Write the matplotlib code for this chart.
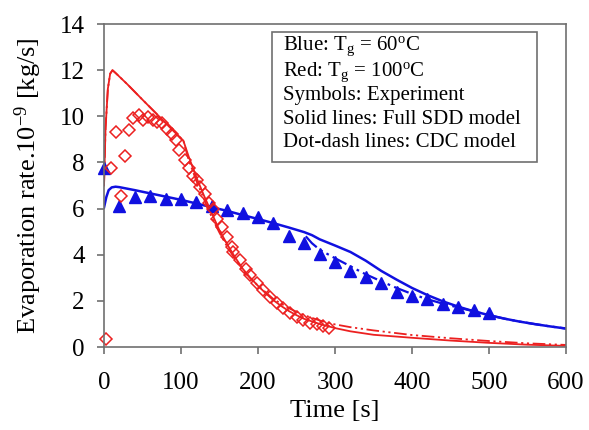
import matplotlib.pyplot as plt
from matplotlib.patches import Rectangle

plt.rcParams['font.family'] = ['Liberation Serif', 'DejaVu Serif']
plt.rcParams['mathtext.fontset'] = 'custom'
plt.rcParams['mathtext.rm'] = 'Liberation Serif'
plt.rcParams['mathtext.it'] = 'Liberation Serif:italic'

# Blue, Tg = 60 C
blue_exp_t = [0, 20, 40, 60, 80, 100, 120, 140, 160, 180, 200, 220, 240, 260,
              280, 300, 320, 340, 360, 380, 400, 420, 440, 460, 480, 500]
blue_exp_y = [7.75, 6.1, 6.52, 6.55, 6.42, 6.42, 6.27, 6.1, 5.95, 5.8, 5.63, 5.37, 4.82, 4.49,
              4.03, 3.67, 3.31, 3.02, 2.76, 2.4, 2.21, 2.1, 1.86, 1.72, 1.6, 1.48]

blue_sdd_t = [0, 3, 6, 10, 15, 20, 40, 60, 80, 100, 120, 140, 160, 180, 200, 220, 240, 260,
              270, 280, 300, 320, 340, 360, 380, 400, 420, 440, 460, 480, 500, 520, 540,
              560, 580, 600]
blue_sdd_y = [6.05, 6.5, 6.8, 6.92, 6.95, 6.93, 6.8, 6.66, 6.52, 6.38, 6.22, 6.06, 5.9, 5.72,
              5.55, 5.37, 5.18, 4.98, 4.85, 4.67, 4.4, 4.12, 3.74, 3.3, 2.92, 2.56, 2.25, 1.98,
              1.75, 1.55, 1.38, 1.23, 1.1, 0.99, 0.89, 0.8]

blue_cdc_t = [262, 270, 280, 300, 320, 340, 360, 380, 400, 420, 440, 460, 480, 500, 520, 540,
              560, 580, 600]
blue_cdc_y = [4.8, 4.5, 4.22, 3.85, 3.5, 3.15, 2.85, 2.56, 2.3, 2.07, 1.88, 1.71, 1.55, 1.38,
              1.23, 1.1, 0.99, 0.89, 0.8]

# Red, Tg = 100 C
red_exp_t = [2, 9, 16, 22, 27, 33, 38, 45, 51, 57, 63, 69, 75, 82, 88, 94, 98, 105, 110, 116,
             121, 125, 131, 136, 141, 147, 153, 160, 166, 168, 177, 184, 190, 199, 207, 216,
             225, 233, 242, 251, 259, 268, 277, 285, 292]
red_exp_y = [0.33, 7.75, 9.33, 6.56, 8.28, 9.41, 9.91, 10.06, 9.84, 9.98, 9.84, 9.76, 9.69,
             9.47, 9.25, 8.99, 8.56, 8.1, 7.74, 7.41, 7.24, 6.95, 6.65, 6.25, 6.0, 5.56, 5.2,
             4.77, 4.33, 4.13, 3.76, 3.4, 3.12, 2.76, 2.47, 2.18, 1.89, 1.68, 1.47, 1.29, 1.17,
             1.06, 1.0, 0.91, 0.81]

red_sdd_t = [0, 2, 5, 8, 11, 15, 30, 50, 70, 90, 103, 110, 120, 130, 140, 150, 160, 170, 180,
             190, 200, 210, 220, 230, 240, 250, 260, 280, 300, 320, 350, 400, 450, 500, 550, 600]
red_sdd_y = [7.0, 9.5, 11.2, 11.85, 12.0, 11.88, 11.4, 10.72, 10.05, 9.38, 8.95, 8.25, 7.35,
             6.55, 5.8, 5.05, 4.45, 3.9, 3.4, 3.0, 2.65, 2.33, 2.03, 1.78, 1.56, 1.38, 1.22,
             1.0, 0.82, 0.68, 0.53, 0.4, 0.28, 0.18, 0.1, 0.05]

red_cdc_t = [0, 2, 5, 8, 11, 15, 30, 50, 70, 90, 103, 110, 120, 130, 140, 150, 160, 170, 180,
             190, 200, 220, 240, 260, 280, 300, 320, 350, 400, 450, 500, 550, 600]
red_cdc_y = [7.0, 9.5, 11.2, 11.85, 12.0, 11.88, 11.4, 10.72, 10.05, 9.38, 8.95, 8.1, 7.2,
             6.4, 5.62, 4.95, 4.35, 3.82, 3.35, 2.98, 2.66, 2.08, 1.68, 1.38, 1.15, 0.98, 0.86,
             0.72, 0.52, 0.38, 0.26, 0.16, 0.09]

legend_lines = ['Blue: T$_\\mathrm{g}$ = 60$^\\mathrm{o}$C',
                'Red: T$_\\mathrm{g}$ = 100$^\\mathrm{o}$C',
                'Symbols: Experiment',
                'Solid lines: Full SDD model',
                'Dot-dash lines: CDC model']

blue = '#1010e0'
red = '#ec2020'
gray = '#707070'
dashdot = (0, (7, 2, 1.2, 2, 1.2, 2))

fig = plt.figure(figsize=(5.89, 4.30), dpi=100)
ax = fig.add_axes([0.1766, 0.193, 0.7844, 0.751])

ax.plot(blue_sdd_t, blue_sdd_y, color=blue, lw=1.8)
ax.plot(blue_cdc_t, blue_cdc_y, color=blue, lw=1.6, linestyle=dashdot)
ax.plot(red_sdd_t, red_sdd_y, color=red, lw=1.3)
ax.plot(red_cdc_t, red_cdc_y, color=red, lw=1.3, linestyle=dashdot)
ax.plot(blue_exp_t, blue_exp_y, linestyle='none', marker='^', markersize=8,
        color=blue, clip_on=False)
ax.plot(red_exp_t, red_exp_y, linestyle='none', marker='D', markersize=6.3,
        markerfacecolor='none', markeredgecolor=red, markeredgewidth=1.1, clip_on=False)

ax.set_xlim(0, 600)
ax.set_ylim(0, 14)
ax.set_xticks(range(0, 601, 100))
ax.set_yticks(range(0, 15, 2))
for s in ax.spines.values():
    s.set_color(gray)
    s.set_linewidth(1.2)
ax.tick_params(axis='both', colors=gray, labelcolor='black', labelsize=18,
               direction='out', length=5, width=1.2)
ax.tick_params(axis='x', pad=13)
ax.tick_params(axis='y', pad=9)
ax.tick_params(top=False, right=False)

ax.set_xlabel('Time [s]', fontsize=19, labelpad=4)
ax.set_ylabel('Evaporation rate.10$^{-9}$ [kg/s]', fontsize=19, labelpad=11)

ax.add_patch(Rectangle((0.364, 0.573), 0.573, 0.402, transform=ax.transAxes,
                       facecolor='white', edgecolor=gray, lw=1.2, zorder=5))
for txt, yy in zip(legend_lines, [0.932, 0.852, 0.779, 0.705, 0.632]):
    ax.text(0.387, yy, txt, transform=ax.transAxes, fontsize=15, va='center',
            ha='left', zorder=6)

fig.savefig('out.png', dpi=100)
